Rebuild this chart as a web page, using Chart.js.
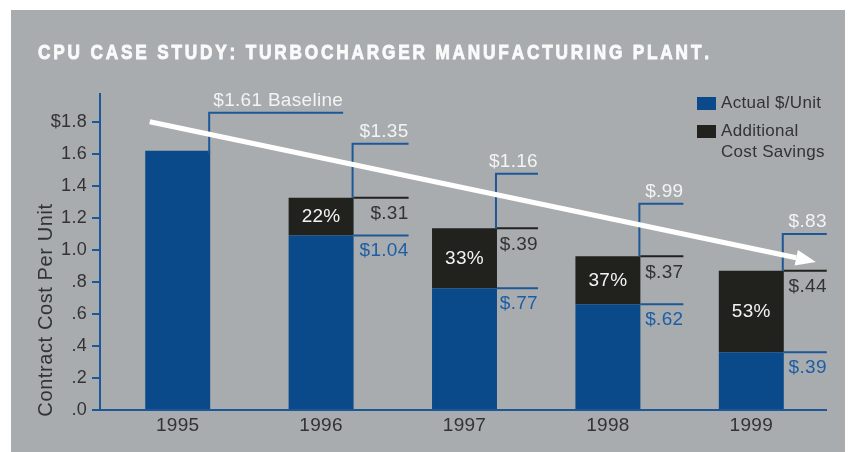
<!DOCTYPE html>
<html>
<head>
<meta charset="utf-8">
<script src="https://cdn.jsdelivr.net/npm/chart.js@4.4.1/dist/chart.umd.min.js"></script>
<style>
  html, body { margin: 0; padding: 0; background: #fff; }
  canvas { display: block; }
</style>
</head>
<body>
<canvas id="costChart" width="854" height="452"></canvas>
<script>
// values
const years = ['1995', '1996', '1997', '1998', '1999'];
const actualCost = [1.62, 1.09, 0.76, 0.66, 0.36];
const extraSavings = [0, 0.235, 0.375, 0.30, 0.51];

// printed labels
const totalLabels = ['$1.61 Baseline', '$1.35', '$1.16', '$.99', '$.83'];
const savingsLabels = ['', '$.31', '$.39', '$.37', '$.44'];
const actualLabels = ['', '$1.04', '$.77', '$.62', '$.39'];
const percentLabels = ['', '22%', '33%', '37%', '53%'];

const yTickValues = [0, 0.2, 0.4, 0.6, 0.8, 1.0, 1.2, 1.4, 1.6, 1.8];
const yTickLabels = ['.0', '.2', '.4', '.6', '.8', '1.0', '1.2', '1.4', '1.6', '$1.8'];

const titleText = 'CPU CASE STUDY: TURBOCHARGER MANUFACTURING PLANT.';
const yTitle = 'Contract Cost Per Unit';

// colours / fonts
const FONT = "'Liberation Sans', Arial, sans-serif";
const PANEL = '#a8acae';
const BLUE = '#0b4a8a';
const BLACK = '#21221e';
const LINE_BLUE = '#1d5797';
const TEXT_BLUE = '#1c5ea6';
const DARK = '#333333';
const WHITE = '#f3f3f3';

// annotation layout (bracket heights in $/unit, bracket length in px)
const bracketTop = [1.856, 1.6625, 1.475, 1.2875, 1.10];
const bracketLen = [133, 55, 41, 43, 43];

const decor = {
  id: 'decor',
  beforeDraw(chart) {
    const ctx = chart.ctx;
    ctx.letterSpacing = '0.3px';
    ctx.save();
    ctx.fillStyle = '#fff';
    ctx.fillRect(0, 0, chart.width, chart.height);
    ctx.fillStyle = PANEL;
    ctx.fillRect(11, 10, 834, 442);

    // condensed, spaced-out title drawn char by char
    ctx.save();
    ctx.letterSpacing = '0px';
    const sx = 0.82;
    ctx.font = "bold 21px " + FONT;
    ctx.fillStyle = '#fafafa';
    ctx.strokeStyle = '#fafafa';
    ctx.lineWidth = 0.9;
    ctx.textBaseline = 'alphabetic';
    ctx.textAlign = 'left';
    ctx.translate(38, 59);
    ctx.scale(sx, 1);
    const chars = titleText.split('');
    const plain = chars.reduce((s, c) => s + ctx.measureText(c).width, 0);
    const gap = (671 / sx - plain) / (chars.length - 1);
    let tx = 0;
    chars.forEach(c => {
      ctx.fillText(c, tx, 0);
      ctx.strokeText(c, tx, 0);
      tx += ctx.measureText(c).width + gap;
    });
    ctx.restore();

    // y axis title
    ctx.font = '20px ' + FONT;
    ctx.letterSpacing = '0.6px';
    ctx.fillStyle = DARK;
    ctx.textAlign = 'center';
    ctx.textBaseline = 'middle';
    ctx.translate(46, 310);
    ctx.rotate(-Math.PI / 2);
    ctx.fillText(yTitle, 0, 0);
    ctx.restore();
  },
  afterDatasetsDraw(chart) {
    const { ctx, chartArea, scales: { x, y } } = chart;
    ctx.save();

    // axes
    ctx.strokeStyle = LINE_BLUE;
    ctx.lineWidth = 2;
    ctx.beginPath();
    ctx.moveTo(chartArea.left - 6, chartArea.top);
    ctx.lineTo(chartArea.left - 6, chartArea.bottom);
    ctx.lineTo(chartArea.right + 4, chartArea.bottom);
    yTickValues.forEach(v => {
      const py = Math.round(y.getPixelForValue(v));
      ctx.moveTo(chartArea.left - 14, py);
      ctx.lineTo(chartArea.left - 6, py);
    });
    ctx.stroke();

    const blueBars = chart.getDatasetMeta(0).data;
    const blackBars = chart.getDatasetMeta(1).data;

    years.forEach((yr, i) => {
      const b = blueBars[i].getProps(['x', 'y', 'width'], true);
      const k = blackBars[i].getProps(['x', 'y', 'width'], true);
      const right = b.x + b.width / 2;
      const end = right + bracketLen[i];
      const top = extraSavings[i] > 0 ? k.y : b.y;
      const bt = y.getPixelForValue(bracketTop[i]);

      // bracket
      ctx.strokeStyle = LINE_BLUE;
      ctx.lineWidth = 2;
      ctx.beginPath();
      ctx.moveTo(right - 1, top + (i === 0 ? 3 : 0));
      ctx.lineTo(right - 1, bt);
      ctx.lineTo(end, bt);
      ctx.stroke();

      ctx.font = '19px ' + FONT;
      ctx.fillStyle = WHITE;
      ctx.textAlign = 'right';
      ctx.textBaseline = 'alphabetic';
      ctx.fillText(totalLabels[i], end, bt - 7);

      if (extraSavings[i] > 0) {
        ctx.beginPath();
        ctx.strokeStyle = BLACK;
        ctx.moveTo(right, k.y);
        ctx.lineTo(end, k.y);
        ctx.stroke();
        ctx.beginPath();
        ctx.strokeStyle = LINE_BLUE;
        ctx.moveTo(right, b.y);
        ctx.lineTo(end, b.y);
        ctx.stroke();

        ctx.font = '19px ' + FONT;
        ctx.textBaseline = 'middle';
        ctx.fillStyle = DARK;
        ctx.fillText(savingsLabels[i], end, k.y + 16);
        ctx.fillStyle = TEXT_BLUE;
        ctx.fillText(actualLabels[i], end, b.y + 15);
        ctx.fillStyle = WHITE;
        ctx.textAlign = 'center';
        ctx.fillText(percentLabels[i], b.x, (k.y + b.y) / 2);
      }
    });

    // trend arrow
    const x0 = x.getPixelForValue(-0.195), y0 = y.getPixelForValue(1.80);
    const x1 = x.getPixelForValue(4.45), y1 = y.getPixelForValue(0.925);
    const ang = Math.atan2(y1 - y0, x1 - x0);
    const headLen = 20, headHalf = 8;
    const bx = x1 - headLen * Math.cos(ang), by = y1 - headLen * Math.sin(ang);
    ctx.strokeStyle = '#ffffff';
    ctx.fillStyle = '#ffffff';
    ctx.lineWidth = 5;
    ctx.beginPath();
    ctx.moveTo(x0, y0);
    ctx.lineTo(bx, by);
    ctx.stroke();
    ctx.beginPath();
    ctx.moveTo(x1, y1);
    ctx.lineTo(bx + headHalf * Math.sin(ang), by - headHalf * Math.cos(ang));
    ctx.lineTo(bx - headHalf * Math.sin(ang), by + headHalf * Math.cos(ang));
    ctx.closePath();
    ctx.fill();

    // legend
    ctx.font = '17px ' + FONT;
    ctx.textAlign = 'left';
    ctx.textBaseline = 'middle';
    ctx.fillStyle = BLUE;
    ctx.fillRect(697, 97, 19, 13);
    ctx.fillStyle = BLACK;
    ctx.fillRect(697, 125, 19, 13);
    ctx.fillStyle = DARK;
    ctx.fillText('Actual $/Unit', 721, 103);
    ctx.fillText('Additional', 721, 131);
    ctx.fillText('Cost Savings', 721, 152);

    ctx.restore();
  }
};

new Chart(document.getElementById('costChart'), {
  type: 'bar',
  data: {
    labels: years,
    datasets: [
      { label: 'Actual $/Unit', data: actualCost, backgroundColor: BLUE, borderWidth: 0 },
      { label: 'Additional Cost Savings', data: extraSavings, backgroundColor: BLACK, borderWidth: 0 }
    ]
  },
  options: {
    responsive: false,
    animation: false,
    layout: { padding: { top: 93, right: 31, left: 0, bottom: 0 } },
    datasets: { bar: { barPercentage: 0.453, categoryPercentage: 1 } },
    plugins: { legend: { display: false }, tooltip: { enabled: false } },
    scales: {
      x: {
        stacked: true,
        grid: { display: false, drawTicks: false },
        border: { display: false },
        ticks: { color: DARK, font: { family: FONT, size: 19 }, padding: 4 },
        afterFit(scale) { scale.height = 42; }
      },
      y: {
        stacked: true,
        min: 0,
        max: 1.98,
        grid: { display: false, drawTicks: false },
        border: { display: false },
        afterBuildTicks(scale) {
          scale.ticks = yTickValues.map(v => ({ value: v }));
        },
        ticks: {
          color: DARK,
          font: { family: FONT, size: 18 },
          padding: 19,
          callback: (v, i) => yTickLabels[i]
        },
        afterFit(scale) { scale.width = 106; }
      }
    }
  },
  plugins: [decor]
});
</script>
</body>
</html>
